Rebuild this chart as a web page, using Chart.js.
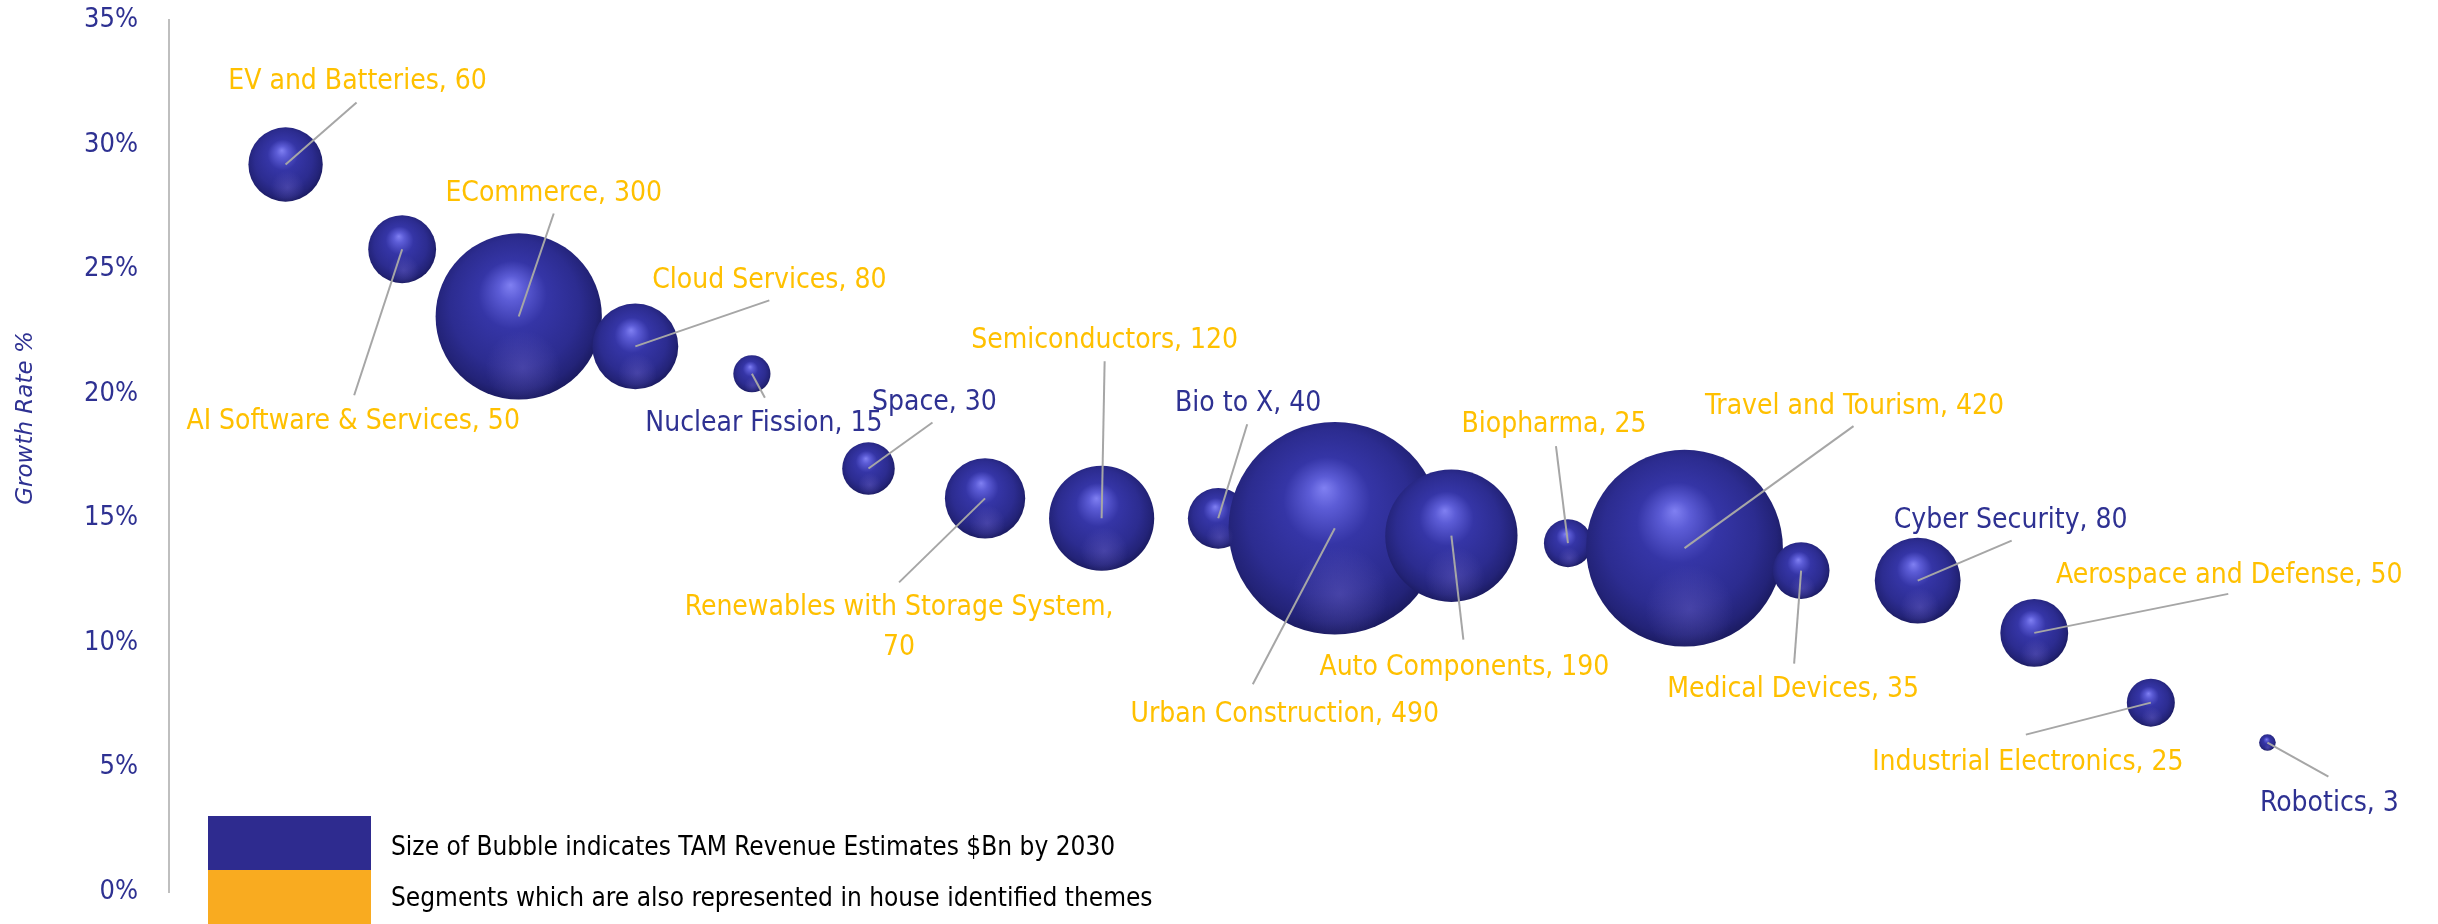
<!DOCTYPE html>
<html lang="en">
<head>
<meta charset="UTF-8">
<title>TAM Growth by Segment</title>
<script src="https://cdn.jsdelivr.net/npm/chart.js"></script>
<style>
  html, body { margin: 0; padding: 0; background: #fff; }
</style>
</head>
<body>
<canvas id="tamChart" width="2438" height="924"></canvas>

<script>
// --- data ---
const segments = ['EV and Batteries', 'AI Software & Services', 'ECommerce', 'Cloud Services',
  'Nuclear Fission', 'Space', 'Renewables with Storage System', 'Semiconductors', 'Bio to X',
  'Urban Construction', 'Auto Components', 'Biopharma', 'Travel and Tourism', 'Medical Devices',
  'Cyber Security', 'Aerospace and Defense', 'Industrial Electronics', 'Robotics'];
const growthRate = [29.2, 25.8, 23.1, 21.9, 20.8, 17.0, 15.8, 15.0, 15.0, 14.6, 14.3, 14.0, 13.8, 12.9, 12.5, 10.4, 7.6, 6.0];
const tamRevenue = [60, 50, 300, 80, 15, 30, 70, 120, 40, 490, 190, 25, 420, 35, 80, 50, 25, 3];
const inHouseTheme = [true, true, true, true, false, false, true, true, false, true, true, true, true, true, false, true, true, false];
const yTicks = [0, 5, 10, 15, 20, 25, 30, 35];
const legendItems = ['Size of Bubble indicates TAM Revenue Estimates $Bn by 2030',
  'Segments which are also represented in house identified themes'];

// label placement: [label dx, label dy, leader end dx, leader end dy] from bubble centre (px)
const labelOffsets = [
  [72, -86, 71, -62], [-49, 170, -48, 146], [35, -126, 35, -103], [134, -69, 134, -46],
  [12, 47, 13, 24], [66, -69, 64, -46], [-86, 126, -86, 84], [3, -181, 3, -157],
  [30, -118, 29, -94], [-50, 183, -82, 156], [13, 129, 12, 104], [-14, -121, -12, -97],
  [170, -144, 169, -122], [-8, 116, -7, 93], [93, -63, 94, -40], [195, -60, 194, -39],
  [-123, 57, -125, 32], [62, 58, 61, 34]
];

const NAVY = '#2E3192';
const GOLD = '#FFC000';
const FONT = "'Liberation Sans Narrow', 'DejaVu Sans Condensed', sans-serif";
const bubbleScale = 4.8; // px of radius per sqrt($Bn)

function sphereFill(context) {
  const chart = context.chart;
  if (context.type !== 'data' || !chart.chartArea) return '#2E2E96';
  const raw = context.raw;
  const cx = chart.scales.x.getPixelForValue(raw.x);
  const cy = chart.scales.y.getPixelForValue(raw.y);
  const r = raw.r;
  const g = chart.ctx.createRadialGradient(cx - 0.1 * r, cy - 0.38 * r, 0, cx - 0.03 * r, cy - 0.06 * r, 1.08 * r);
  g.addColorStop(0, '#8080F2');
  g.addColorStop(0.14, '#5C5CD6');
  g.addColorStop(0.38, '#3535A6');
  g.addColorStop(0.72, '#2C2C90');
  g.addColorStop(0.9, '#232378');
  g.addColorStop(1, '#1A1A5E');
  return g;
}

const annotations = {
  id: 'annotations',
  afterDatasetsDraw(chart) {
    const ctx = chart.ctx;
    const meta = chart.getDatasetMeta(0);
    ctx.save();
    // soft reflection on the lower part of each sphere
    meta.data.forEach(pt => {
      const r = pt.options.radius;
      ctx.save();
      ctx.beginPath();
      ctx.arc(pt.x, pt.y, r, 0, Math.PI * 2);
      ctx.clip();
      const g = ctx.createRadialGradient(pt.x + 0.05 * r, pt.y + 0.62 * r, 0, pt.x + 0.05 * r, pt.y + 0.62 * r, 0.45 * r);
      g.addColorStop(0, 'rgba(120, 110, 210, 0.35)');
      g.addColorStop(1, 'rgba(120, 110, 210, 0)');
      ctx.fillStyle = g;
      ctx.fillRect(pt.x - r, pt.y - r, 2 * r, 2 * r);
      ctx.restore();
    });
    // leader lines
    ctx.strokeStyle = '#A6A6A6';
    ctx.lineWidth = 2;
    meta.data.forEach((pt, i) => {
      const o = labelOffsets[i];
      ctx.beginPath();
      ctx.moveTo(pt.x, pt.y);
      ctx.lineTo(pt.x + o[2], pt.y + o[3]);
      ctx.stroke();
    });
    // data labels
    ctx.font = '28px ' + FONT;
    ctx.textAlign = 'center';
    ctx.textBaseline = 'middle';
    meta.data.forEach((pt, i) => {
      const o = labelOffsets[i];
      const text = segments[i] + ', ' + tamRevenue[i];
      ctx.fillStyle = inHouseTheme[i] ? GOLD : NAVY;
      const x = pt.x + o[0], y = pt.y + o[1] + 3;
      if (ctx.measureText(text).width > 400) {
        ctx.fillText(segments[i] + ',', x, y - 20);
        ctx.fillText(String(tamRevenue[i]), x, y + 20);
      } else {
        ctx.fillText(text, x, y);
      }
    });
    ctx.restore();
  },
  afterDraw(chart) {
    const ctx = chart.ctx;
    ctx.save();
    // y axis title
    ctx.translate(26, 418);
    ctx.rotate(-Math.PI / 2);
    ctx.font = 'italic 23px "DejaVu Sans", sans-serif';
    ctx.fillStyle = NAVY;
    ctx.textAlign = 'center';
    ctx.textBaseline = 'middle';
    ctx.fillText('Growth Rate %', 0, 0);
    ctx.restore();

    // legend
    ctx.save();
    const colors = ['#2E2B8F', '#F9AB20'];
    ctx.font = '26px ' + FONT;
    ctx.textBaseline = 'middle';
    ctx.textAlign = 'left';
    legendItems.forEach((t, i) => {
      ctx.fillStyle = colors[i];
      ctx.fillRect(208, 816 + i * 54, 163, 54);
      ctx.fillStyle = '#000';
      ctx.fillText(t, 391, 848 + i * 51);
    });
    ctx.restore();
  }
};

new Chart(document.getElementById('tamChart'), {
  type: 'bubble',
  data: {
    datasets: [{
      label: 'TAM Revenue Estimates $Bn by 2030',
      data: segments.map((s, i) => ({ x: i + 1, y: growthRate[i], r: bubbleScale * Math.sqrt(tamRevenue[i]) })),
      backgroundColor: sphereFill,
      borderWidth: 0,
      clip: false
    }]
  },
  options: {
    responsive: false,
    animation: false,
    events: [],
    layout: { autoPadding: false, padding: { top: 20, right: 54, bottom: 32, left: 0 } },
    plugins: {
      legend: { display: false },
      tooltip: { enabled: false }
    },
    scales: {
      x: { type: 'linear', display: false, min: 0, max: 19 },
      y: {
        min: 0,
        max: 35,
        afterFit: scale => {
          scale.width = 169;
          scale.paddingTop = 0;
          scale.paddingBottom = 0;
        },
        afterBuildTicks: scale => { scale.ticks = yTicks.map(v => ({ value: v })); },
        grid: { display: false, drawTicks: false },
        border: { display: true, color: '#BFBFBF', width: 2 },
        ticks: {
          padding: 31,
          color: NAVY,
          font: { family: FONT, size: 27 },
          callback: v => v + '%'
        }
      }
    }
  },
  plugins: [annotations]
});
</script>
</body>
</html>
